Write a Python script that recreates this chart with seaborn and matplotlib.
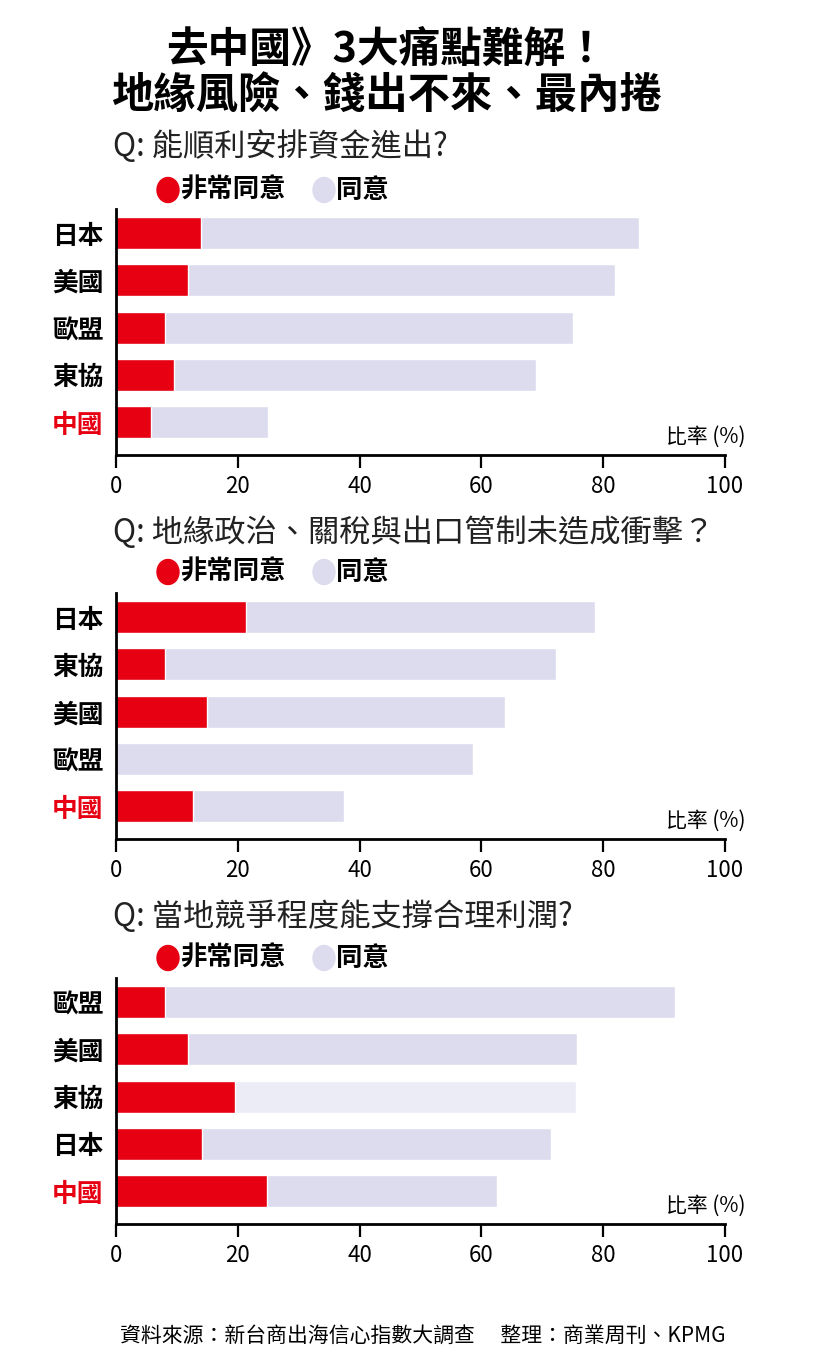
import matplotlib
matplotlib.use("Agg")
import matplotlib.pyplot as plt
import seaborn as sns
import pandas as pd
from matplotlib.patches import Ellipse

sns.set_theme(style="white")
plt.rcParams['font.family'] = ['Noto Sans CJK TC', 'DejaVu Sans']

RED = "#E60012"
GREY = "#DCDCEE"
LIGHT = "#ECECF6"

# ---- data ----
q1_title = "Q: 能順利安排資金進出?"
q1_cats = ["日本", "美國", "歐盟", "東協", "中國"]
q1_strong = [14.0, 11.8, 8.0, 9.5, 5.8]
q1_total = [85.9, 81.9, 75.1, 68.9, 24.9]

q2_title = "Q: 地緣政治、關稅與出口管制未造成衝擊？"
q2_cats = ["日本", "東協", "美國", "歐盟", "中國"]
q2_strong = [21.3, 8.0, 14.9, 0.0, 12.6]
q2_total = [78.7, 72.3, 63.9, 58.6, 37.4]

q3_title = "Q: 當地競爭程度能支撐合理利潤?"
q3_cats = ["歐盟", "美國", "東協", "日本", "中國"]
q3_strong = [8.0, 11.8, 19.6, 14.1, 24.8]
q3_total = [91.8, 75.7, 75.5, 71.5, 62.5]

xticks = [0, 20, 40, 60, 80, 100]
legend_labels = ["非常同意", "同意"]
unit_label = "比率 (%)"
title_lines = ["去中國》3大痛點難解！", "地緣風險、錢出不來、最內捲"]
source = "資料來源：新台商出海信心指數大調查　 整理：商業周刊、KPMG"

W, H = 830, 1372
fig = plt.figure(figsize=(W / 100, H / 100), dpi=100)

def fx(px):
    return px / W

def fy(py):
    return 1 - py / H

# title
fig.text(fx(386), fy(50), title_lines[0], ha="center", va="center",
         fontsize=30, fontweight="black", color="black")
fig.text(fx(386), fy(97), title_lines[1], ha="center", va="center",
         fontsize=30.5, fontweight="black", color="black")

panels = [
    (q1_title, q1_cats, q1_strong, q1_total, 147, 190, 233, [GREY] * 5),
    (q2_title, q2_cats, q2_strong, q2_total, 533, 572, 617, [GREY] * 5),
    (q3_title, q3_cats, q3_strong, q3_total, 917, 958, 1002, [GREY, GREY, LIGHT, GREY, GREY]),
]

step = 47.3
for title, cats, strong, total, qy, ly, first_bar, colors in panels:
    fig.text(fx(113), fy(qy), title, ha="left", va="center", fontsize=22.5,
             fontweight="light", color="#222222")
    # legend
    fig.patches.append(Ellipse((fx(168), fy(ly)), width=22 / W, height=25 / H,
                               transform=fig.transFigure, color=RED))
    fig.text(fx(180), fy(ly), legend_labels[0], ha="left", va="center",
             fontsize=19, fontweight="bold", color="black")
    fig.patches.append(Ellipse((fx(324), fy(ly)), width=22 / W, height=25 / H,
                               transform=fig.transFigure, color=GREY))
    fig.text(fx(336), fy(ly), legend_labels[1], ha="left", va="center",
             fontsize=19, fontweight="bold", color="black")

    top_px = first_bar - 0.5 * step
    bot_px = first_bar + 4.7 * step
    ax = fig.add_axes([fx(116), fy(bot_px), (725 - 116) / W, (bot_px - top_px) / H])
    df = pd.DataFrame({"cat": cats, "strong": strong, "total": total})
    sns.barplot(data=df, y="cat", x="total", hue="cat", palette=colors,
                orient="h", ax=ax, width=0.68, legend=False, saturation=1)
    sns.barplot(data=df, y="cat", x="strong", color=RED, orient="h",
                ax=ax, width=0.68, saturation=1)
    ax.set_xlim(0, 100)
    ax.set_ylim(4.7, -0.5)
    ax.set_xlabel("")
    ax.set_ylabel("")
    ax.set_xticks(xticks)
    ax.set_xticklabels([str(t) for t in xticks], fontsize=16)
    for s in ["top", "right"]:
        ax.spines[s].set_visible(False)
    for s in ["left", "bottom"]:
        ax.spines[s].set_color("black")
        ax.spines[s].set_linewidth(2)
    ax.tick_params(axis="x", direction="out", length=9, width=1.6,
                   colors="black", pad=5, bottom=True)
    ax.tick_params(axis="y", length=0, pad=9)
    for lab in ax.get_yticklabels():
        lab.set_fontsize(18.5)
        lab.set_fontweight("bold")
        lab.set_color(RED if lab.get_text() == "中國" else "black")
    ax.text(1.033, 0.075, unit_label, transform=ax.transAxes, ha="right",
            va="center", fontsize=15, color="black")
    ax.set_facecolor("white")

fig.text(fx(423), fy(1337), source, ha="center", va="center",
         fontsize=15, fontweight="medium", color="black")

fig.savefig("out.png", dpi=100, facecolor="white")
